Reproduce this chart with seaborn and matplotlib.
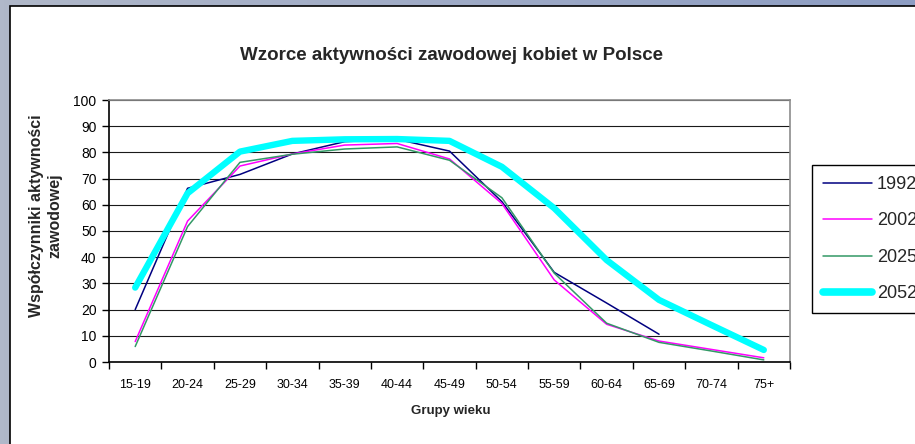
import numpy as np
import pandas as pd
import matplotlib
matplotlib.use("Agg")
import matplotlib.pyplot as plt
import seaborn as sns
from matplotlib.patches import Rectangle
from matplotlib.lines import Line2D
from matplotlib.colors import LinearSegmentedColormap

# ---- data ----
age_groups = ['15-19', '20-24', '25-29', '30-34', '35-39', '40-44', '45-49',
              '50-54', '55-59', '60-64', '65-69', '70-74', '75+']
years = ['1992', '2002', '2025', '2052']
v1992 = [20.0, 66.3, 71.6, 79.4, 84.1, 85.0, 80.5, 61.2, 34.2, 22.5, 10.6, np.nan, np.nan]
v2002 = [7.8, 53.8, 74.8, 79.4, 82.8, 83.4, 77.5, 60.5, 31.3, 14.4, 8.0, 4.8, 1.6]
v2025 = [5.9, 51.7, 76.2, 79.3, 81.3, 82.1, 77.0, 62.7, 33.9, 14.8, 7.5, 4.2, 0.8]
v2052 = [28.4, 64.4, 80.3, 84.4, 85.0, 85.1, 84.4, 74.5, 58.7, 38.9, 23.7, 14.1, 4.6]

title = 'Wzorce aktywności zawodowej kobiet w Polsce'
ylabel = 'Współczynniki aktywności\nzawodowej'
xlabel = 'Grupy wieku'

series = {'1992': v1992, '2002': v2002, '2025': v2025, '2052': v2052}
rows = []
for y in years:
    for i, g in enumerate(age_groups):
        rows.append({'pos': i, 'grupa': g, 'rok': y, 'wartosc': series[y][i]})
df = pd.DataFrame(rows).dropna()

palette = {'1992': '#000080', '2002': '#ff00ff', '2025': '#339966', '2052': '#00ffff'}
widths = {'1992': 1.1, '2002': 1.1, '2025': 1.1, '2052': 4.6}

sns.set_theme(style='white')
plt.rcParams['font.family'] = ['Liberation Sans', 'DejaVu Sans']

W, H = 915, 444
fig = plt.figure(figsize=(W / 100, H / 100), dpi=100)

# background gradient
bg = fig.add_axes([0, 0, 1, 1], zorder=-10)
cmap = LinearSegmentedColormap.from_list('bg', ['#b0b8c9', '#8d9dc3'])
grad = np.linspace(0, 1, 256)[None, :]
bg.imshow(grad, aspect='auto', cmap=cmap, extent=[0, 1, 0, 1])
bg.set_axis_off()
# white panel
fig.patches.append(Rectangle((10 / W, -0.05), 1.0, 1 - 6 / H + 0.05,
                             transform=fig.transFigure, facecolor='white',
                             edgecolor='black', linewidth=1.2, zorder=-5))

ax = fig.add_axes([109 / W, 1 - 362 / H, (790 - 109) / W, (362 - 100) / H])
ax.set_facecolor('white')

sns.lineplot(data=df, x='pos', y='wartosc', hue='rok', hue_order=years,
             palette=palette, size='rok', sizes=widths, size_order=years,
             legend=False, sort=False, ax=ax)
for ln in ax.get_lines():
    ln.set_solid_capstyle('round')
    ln.set_solid_joinstyle('round')

ax.set_xlim(-0.5, len(age_groups) - 0.5)
ax.set_ylim(0, 100)
ax.set_yticks(np.arange(0, 101, 10))
ax.set_xticks(np.arange(len(age_groups)))
ax.set_xticklabels(age_groups, fontsize=9)
ax.set_xticks(np.arange(-0.5, len(age_groups), 1), minor=True)
ax.tick_params(axis='x', which='major', length=0, pad=12, colors='black')
ax.tick_params(axis='x', which='minor', length=5, width=1, color='black', direction='out', bottom=True)
ax.tick_params(axis='y', length=5, width=1, color='black', direction='out', left=True,
               labelsize=10, pad=4, labelcolor='black')
ax.grid(axis='y', color='#1a1a1a', linewidth=0.8)
ax.grid(axis='x', visible=False)
ax.set_axisbelow(True)
for s in ['left', 'bottom']:
    ax.spines[s].set_color('black')
    ax.spines[s].set_linewidth(1.2)
for s in ['top', 'right']:
    ax.spines[s].set_color('#8c8c8c')
    ax.spines[s].set_linewidth(1.2)

ax.set_xlabel(xlabel, fontsize=9.5, fontweight='bold')
ax.xaxis.label.set_va('center')
ax.xaxis.set_label_coords((451 - 109) / 681, (362 - 411) / 262)
ax.set_ylabel(ylabel, fontsize=11.5, fontweight='bold', multialignment='center', linespacing=1.25)
ax.yaxis.label.set_va('center')
ax.yaxis.set_label_coords((46 - 109) / 681, (362 - 216) / 262)

fig.text(452 / W, 1 - 55 / H, title, ha='center', va='center',
         fontsize=13.5, fontweight='bold')

handles = [Line2D([], [], color=palette[y], linewidth=widths[y] if y != '2052' else 5.5,
                  solid_capstyle='round') for y in years]
leg = fig.legend(handles, years, loc='upper left',
                 bbox_to_anchor=(812 / W, 1 - 165 / H), bbox_transform=fig.transFigure,
                 fontsize=13, frameon=True, fancybox=False, edgecolor='black',
                 handlelength=2.7, handletextpad=0.3, labelspacing=1.08,
                 borderpad=0.6, borderaxespad=0)
leg.get_frame().set_linewidth(1.0)
leg.get_frame().set_facecolor('white')
leg.get_frame().set_alpha(1)

fig.savefig('out.png', dpi=100)
